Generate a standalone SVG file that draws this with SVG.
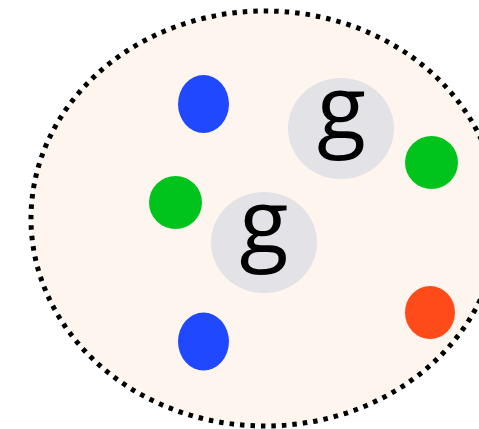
<svg xmlns="http://www.w3.org/2000/svg" width="479" height="429" viewBox="0 0 479 429">
<style>
.blue{fill:#1f48ff}
.green{fill:#00c41c}
.red{fill:#ff4a1a}
.hub{fill:#e3e2e7}
.lbl{font-family:"Open Sans",sans-serif;font-size:90px;font-weight:500;fill:#000;text-anchor:middle}
</style>
<g id="container">
<ellipse cx="265" cy="218.5" rx="234" ry="207.5" fill="#fef6ee" stroke="#000" stroke-width="5" stroke-dasharray="4.5 6"/>
</g>
<g id="connectors"></g>
<g id="blue1"><ellipse class="blue" cx="203.5" cy="104" rx="25.5" ry="29"/></g>
<g id="blue2"><ellipse class="blue" cx="203.5" cy="341.5" rx="25.5" ry="29"/></g>
<g id="green1"><circle class="green" cx="175.5" cy="202.5" r="26.5"/></g>
<g id="green2"><circle class="green" cx="431.5" cy="162.5" r="26.5"/></g>
<g id="red1"><ellipse class="red" cx="430" cy="312.5" rx="25" ry="26.5"/></g>
<g id="g1"><ellipse class="hub" cx="341" cy="128.5" rx="53" ry="50.5"/><text class="lbl" x="341.5" y="139">g</text></g>
<g id="g2"><ellipse class="hub" cx="264" cy="242.5" rx="53" ry="50.5"/><text class="lbl" x="264" y="253">g</text></g>
</svg>
